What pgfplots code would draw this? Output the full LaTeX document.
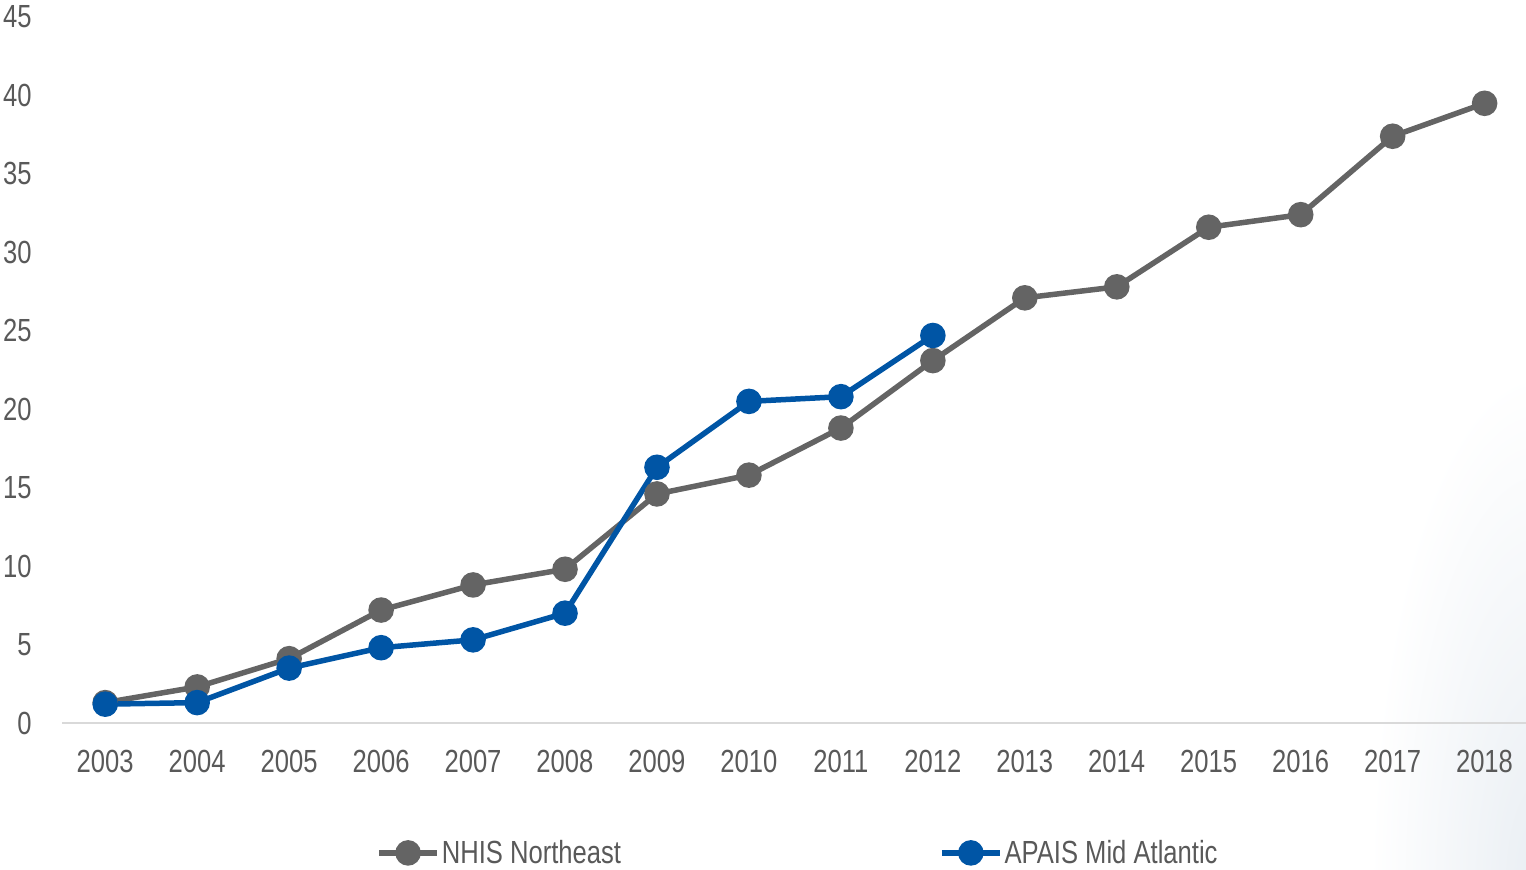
\documentclass[border=0pt]{standalone}
\usepackage{pgfplots}
\pgfplotsset{compat=1.18}
\usepackage{fontspec}
\setmainfont{Liberation Sans}[FakeStretch=0.8]
\definecolor{txt}{HTML}{595959}
\definecolor{grayline}{HTML}{646464}
\definecolor{blueline}{HTML}{0055A5}
\definecolor{axisgray}{HTML}{D9D9D9}
\definecolor{cornercol}{HTML}{E9EEF3}
\begin{document}
\begin{tikzpicture}
\path[use as bounding box] (0pt,0pt) rectangle (763pt,434.5pt);
\begin{scope}
\clip (0pt,0pt) rectangle (763pt,434.5pt);
\shade[inner color=cornercol, outer color=white] (770pt,-10pt) ellipse (85pt and 260pt);
\end{scope}
\begin{axis}[
  at={(31pt,73pt)}, anchor=south west,
  scale only axis, width=732pt, height=353pt,
  xmin=2002.53, xmax=2018.45, ymin=0, ymax=45,
  xtick={2003,...,2018}, ytick={0,5,...,45},
  axis x line*=bottom, axis y line*=left,
  x axis line style={draw=axisgray, line width=0.75pt, -},
  y axis line style={draw=none},
  major tick length=0pt,
  /pgf/number format/assume math mode=true,
  /pgf/number format/1000 sep={},
  tick label style={font=\fontsize{16}{18}\selectfont, text=txt},
  yticklabel style={anchor=east, inner sep=0pt, xshift=-15pt},
  xticklabel style={anchor=north, inner sep=0pt, yshift=-13.5pt},
  clip=false,
  legend columns=2,
  legend style={draw=none, fill=none, at={(0.502,-0.184)}, anchor=center,
    font=\fontsize{16}{18}\selectfont, text=txt,
    nodes={inner sep=0pt},
    /tikz/every even column/.append style={column sep=159pt},
    /tikz/every odd column/.append style={column sep=1pt},
    inner sep=0pt},
  legend cell align=left,
  legend image code/.code={\draw[#1,mark repeat=2,mark phase=2] plot coordinates {(0pt,0pt) (14.5pt,0pt) (29pt,0pt)};},
]
\addplot[color=grayline, line width=2.75pt, mark=*, mark size=5pt, mark options={solid}] coordinates {
(2003,1.3) (2004,2.3) (2005,4.1) (2006,7.2) (2007,8.8) (2008,9.8) (2009,14.6) (2010,15.8)
(2011,18.8) (2012,23.1) (2013,27.1) (2014,27.8) (2015,31.6) (2016,32.4) (2017,37.4) (2018,39.5)};
\addlegendentry{NHIS Northeast}
\addplot[color=blueline, line width=2.75pt, mark=*, mark size=5pt, mark options={solid}] coordinates {
(2003,1.2) (2004,1.3) (2005,3.5) (2006,4.8) (2007,5.3) (2008,7.0) (2009,16.3) (2010,20.5)
(2011,20.8) (2012,24.7)};
\addlegendentry{APAIS Mid Atlantic}
\end{axis}
\end{tikzpicture}
\end{document}
